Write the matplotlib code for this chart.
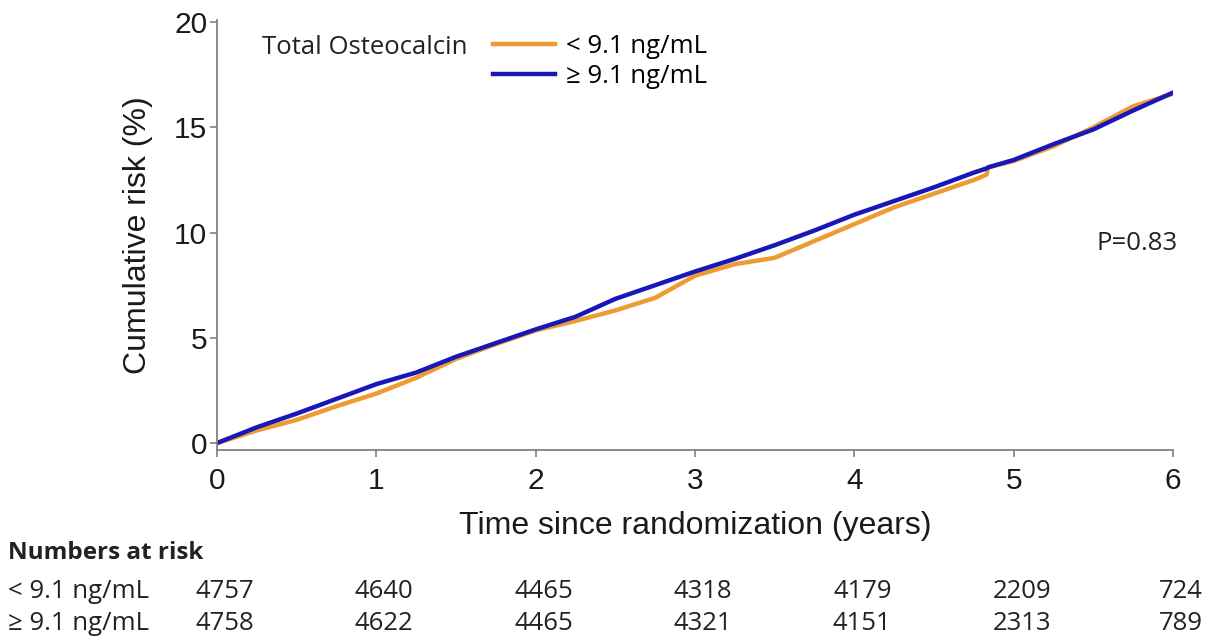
import numpy as np
import matplotlib
matplotlib.use('Agg')
import matplotlib.pyplot as plt
import matplotlib.transforms as mtransforms

# =====================================
# Data
# =====================================
years = [0, 0.25, 0.5, 0.75, 1.0, 1.25, 1.5, 1.75, 2.0, 2.25, 2.5, 2.75, 3.0,
         3.25, 3.5, 3.75, 4.0, 4.25, 4.5, 4.75, 4.83, 4.84, 5.0, 5.25, 5.5,
         5.75, 6.0]
risk_low = [0, 0.6, 1.1, 1.75, 2.35, 3.1, 4.0, 4.7, 5.35, 5.8, 6.3, 6.9, 7.95,
            8.5, 8.8, 9.6, 10.4, 11.2, 11.85, 12.5, 12.75, 13.1, 13.4, 14.1,
            15.0, 16.0, 16.6]
risk_high = [0, 0.75, 1.4, 2.1, 2.8, 3.35, 4.1, 4.75, 5.4, 6.0, 6.85, 7.5, 8.15,
             8.75, 9.4, 10.1, 10.85, 11.5, 12.15, 12.85, 13.05, 13.1, 13.45,
             14.2, 14.9, 15.8, 16.65]

group_labels = ['< 9.1 ng/mL', '\u2265 9.1 ng/mL']
risk_times = [0, 1, 2, 3, 4, 5, 6]
at_risk_low = [4757, 4640, 4465, 4318, 4179, 2209, 724]
at_risk_high = [4758, 4622, 4465, 4321, 4151, 2313, 789]
p_text = 'P=0.83'

col_low = '#EE9C32'
col_high = '#1818B8'
grey = '#808080'
side_font = 'Open Sans'
fs_side = 18.5

W, H = 1210, 644
fig = plt.figure(figsize=(W / 100, H / 100), dpi=100)
ax = fig.add_axes([217 / W, 1 - 450 / H, (1173 - 217) / W, (450 - 20) / H])

ax.plot(years, risk_low, color=col_low, lw=3.2, label=group_labels[0])
ax.plot(years, risk_high, color=col_high, lw=3.2, label=group_labels[1])

ax.set_xlim(0, 6)
ax.set_ylim(-0.33, 20.1)
ax.set_xticks(range(7))
ax.set_yticks([0, 5, 10, 15, 20])
for s in ['top', 'right']:
    ax.spines[s].set_visible(False)
for s in ['left', 'bottom']:
    ax.spines[s].set_color(grey)
    ax.spines[s].set_linewidth(1.3)
ax.tick_params(colors=grey, labelcolor='#1a1a1a', labelsize=21.5,
               length=5, width=1.2, labelfontfamily='Liberation Sans')
ax.tick_params(axis='x', pad=7)
ax.tick_params(axis='y', pad=2)
ax.set_xlabel('Time since randomization (years)', fontsize=23,
              family='Liberation Sans', labelpad=12, color='#1a1a1a')
ax.set_ylabel('Cumulative risk (%)', fontsize=23,
              family='Liberation Sans', labelpad=15, color='#1a1a1a')

# legend with title on the left
fig.text(262 / W, 1 - 47 / H, 'Total Osteocalcin', fontsize=fs_side,
         family=side_font, va='center', ha='left', color='#222222')
fig.legend(loc='upper left', bbox_to_anchor=(493 / W, 1 - 34 / H),
           frameon=False, prop={'family': side_font, 'size': fs_side},
           handlelength=2.4, handletextpad=0.45, labelspacing=0.2,
           borderpad=0, borderaxespad=0)

fig.text(1178 / W, 1 - 243 / H, p_text, fontsize=fs_side, family=side_font,
         ha='right', va='center', color='#222222')

# Numbers at risk table
trans = mtransforms.blended_transform_factory(ax.transData, fig.transFigure)
fig.text(8 / W, 1 - 553 / H, 'Numbers at risk', fontsize=17.5,
         family=side_font, fontweight='bold', va='center', color='#222222')
for row_y, lab, vals in [(592, group_labels[0], at_risk_low),
                         (623, group_labels[1], at_risk_high)]:
    fig.text(8 / W, 1 - row_y / H, lab, fontsize=fs_side, family=side_font,
             va='center', color='#222222')
    for t, v in zip(risk_times, vals):
        ax.text(t + 0.05, 1 - row_y / H, str(v), transform=trans,
                fontsize=fs_side, family=side_font, ha='center', va='center',
                color='#222222', clip_on=False)

fig.savefig('out.png', dpi=100)
